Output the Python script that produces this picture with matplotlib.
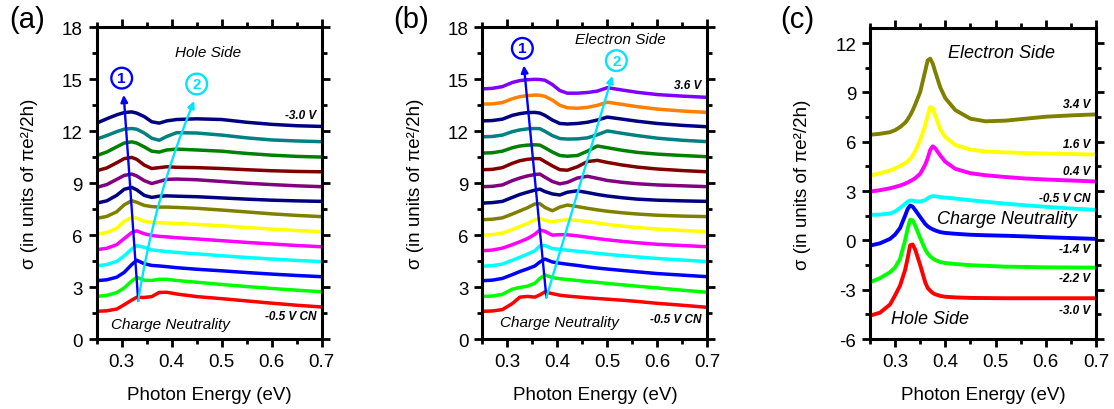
import numpy as np
import matplotlib.pyplot as plt
from matplotlib.ticker import MultipleLocator

plt.rcParams['font.family'] = ['Liberation Sans', 'DejaVu Sans']
plt.rcParams['axes.unicode_minus'] = False

# ---------------- data ----------------
# panel (a): hole side, bottom (CN) to top (-3.0 V)
x_a = [0.25, 0.27, 0.29, 0.305, 0.32, 0.33, 0.345, 0.36, 0.375, 0.39, 0.41, 0.45, 0.50, 0.55, 0.60, 0.65, 0.70]
colors_a = ['#FF0000', '#00FF00', '#0000FF', '#00FFFF', '#FF00FF', '#FFFF00', '#808000',
            '#000080', '#800080', '#800000', '#008000', '#008080', '#000080']
curves_a = [
    [1.60, 1.63, 1.73, 1.98, 2.25, 2.41, 2.40, 2.45, 2.69, 2.70, 2.60, 2.45, 2.33, 2.20, 2.07, 1.95, 1.85],
    [2.46, 2.52, 2.68, 2.95, 3.35, 3.56, 3.40, 3.38, 3.45, 3.45, 3.38, 3.28, 3.15, 3.03, 2.92, 2.82, 2.73],
    [3.37, 3.42, 3.57, 3.85, 4.30, 4.55, 4.35, 4.25, 4.22, 4.18, 4.12, 4.03, 3.94, 3.84, 3.75, 3.67, 3.60],
    [4.23, 4.30, 4.48, 4.80, 5.20, 5.39, 5.30, 5.15, 5.10, 5.05, 5.00, 4.92, 4.81, 4.71, 4.62, 4.54, 4.47],
    [5.16, 5.24, 5.45, 5.80, 6.15, 6.25, 6.08, 5.98, 5.93, 5.90, 5.85, 5.78, 5.68, 5.58, 5.49, 5.40, 5.33],
    [6.06, 6.15, 6.40, 6.80, 7.03, 6.98, 6.80, 6.74, 6.72, 6.70, 6.68, 6.62, 6.54, 6.44, 6.35, 6.27, 6.20],
    [6.97, 7.08, 7.35, 7.75, 7.99, 7.90, 7.72, 7.65, 7.62, 7.62, 7.60, 7.55, 7.45, 7.34, 7.23, 7.14, 7.07],
    [7.85, 7.98, 8.30, 8.65, 8.76, 8.62, 8.30, 8.18, 8.25, 8.27, 8.25, 8.22, 8.15, 8.08, 8.02, 7.98, 7.95],
    [8.76, 8.92, 9.22, 9.45, 9.53, 9.42, 9.15, 8.98, 9.10, 9.22, 9.24, 9.20, 9.10, 9.00, 8.92, 8.85, 8.80],
    [9.72, 9.88, 10.18, 10.42, 10.49, 10.38, 10.05, 9.85, 9.90, 9.95, 9.92, 9.90, 9.85, 9.78, 9.72, 9.68, 9.66],
    [10.60, 10.80, 11.10, 11.32, 11.39, 11.32, 11.10, 10.85, 10.80, 10.92, 10.97, 10.92, 10.85, 10.72, 10.62, 10.55, 10.51],
    [11.55, 11.75, 11.98, 12.12, 12.16, 12.12, 11.90, 11.60, 11.48, 11.70, 11.92, 11.90, 11.78, 11.62, 11.50, 11.44, 11.40],
    [12.47, 12.72, 12.95, 13.08, 13.12, 13.05, 12.85, 12.55, 12.47, 12.60, 12.68, 12.72, 12.68, 12.52, 12.40, 12.32, 12.28],
]

# panel (b): electron side, bottom (CN) to top (3.6 V)
x_b = [0.25, 0.27, 0.29, 0.31, 0.325, 0.34, 0.355, 0.365, 0.375, 0.39, 0.405, 0.42, 0.44, 0.46, 0.48, 0.50, 0.53, 0.56, 0.60, 0.65, 0.70]
colors_b = colors_a + ['#FF8000', '#8000FF']
curves_b = [
    [1.60, 1.62, 1.70, 2.05, 2.42, 2.46, 2.42, 2.55, 2.72, 2.62, 2.53, 2.48, 2.43, 2.38, 2.34, 2.30, 2.24, 2.17, 2.06, 1.95, 1.83],
    [2.46, 2.48, 2.58, 2.88, 2.98, 3.05, 3.22, 3.50, 3.70, 3.55, 3.48, 3.44, 3.38, 3.32, 3.27, 3.21, 3.13, 3.05, 2.95, 2.82, 2.70],
    [3.37, 3.40, 3.50, 3.72, 3.90, 4.05, 4.22, 4.45, 4.62, 4.45, 4.38, 4.32, 4.25, 4.17, 4.10, 4.04, 3.96, 3.88, 3.78, 3.69, 3.60],
    [4.20, 4.24, 4.33, 4.55, 4.72, 4.90, 5.10, 5.38, 5.40, 5.22, 5.18, 5.13, 5.07, 5.01, 4.95, 4.89, 4.81, 4.74, 4.65, 4.56, 4.47],
    [5.10, 5.14, 5.25, 5.45, 5.62, 5.80, 6.05, 6.30, 6.22, 6.00, 6.03, 6.02, 5.96, 5.88, 5.80, 5.73, 5.64, 5.56, 5.47, 5.40, 5.33],
    [6.00, 6.03, 6.12, 6.32, 6.50, 6.68, 6.88, 6.98, 6.85, 6.77, 6.85, 6.89, 6.85, 6.78, 6.70, 6.62, 6.52, 6.44, 6.35, 6.27, 6.20],
    [6.89, 6.92, 7.00, 7.22, 7.40, 7.58, 7.80, 7.82, 7.60, 7.41, 7.62, 7.74, 7.65, 7.55, 7.46, 7.38, 7.29, 7.22, 7.15, 7.10, 7.07],
    [7.85, 7.88, 7.95, 8.18, 8.35, 8.48, 8.60, 8.66, 8.52, 8.38, 8.32, 8.48, 8.56, 8.46, 8.35, 8.26, 8.16, 8.08, 8.02, 7.98, 7.95],
    [8.80, 8.82, 8.90, 9.15, 9.30, 9.42, 9.50, 9.53, 9.35, 9.10, 8.96, 9.05, 9.30, 9.40, 9.28, 9.16, 9.05, 8.97, 8.90, 8.85, 8.80],
    [9.78, 9.80, 9.90, 10.15, 10.30, 10.38, 10.42, 10.42, 10.25, 10.00, 9.78, 9.75, 9.95, 10.25, 10.32, 10.20, 10.05, 9.93, 9.82, 9.73, 9.66],
    [10.74, 10.76, 10.85, 11.05, 11.15, 11.20, 11.22, 11.20, 11.05, 10.80, 10.60, 10.56, 10.60, 10.85, 11.15, 11.05, 10.90, 10.78, 10.68, 10.60, 10.53],
    [11.68, 11.70, 11.78, 11.98, 12.08, 12.14, 12.16, 12.15, 12.00, 11.75, 11.58, 11.55, 11.56, 11.62, 11.80, 12.02, 11.88, 11.75, 11.60, 11.48, 11.40],
    [12.60, 12.62, 12.70, 12.92, 13.02, 13.08, 13.09, 13.05, 12.92, 12.65, 12.45, 12.42, 12.45, 12.52, 12.65, 12.82, 12.70, 12.58, 12.45, 12.34, 12.26],
    [13.57, 13.58, 13.66, 13.88, 14.00, 14.06, 14.09, 14.08, 14.02, 13.80, 13.50, 13.36, 13.33, 13.38, 13.50, 13.68, 13.55, 13.42, 13.28, 13.17, 13.09],
    [14.45, 14.48, 14.58, 14.82, 14.93, 14.98, 15.00, 14.99, 14.95, 14.70, 14.35, 14.20, 14.20, 14.24, 14.32, 14.52, 14.38, 14.25, 14.12, 14.03, 13.96],
]

# panel (c): selected gate voltages, bottom (-3.0 V) to top (3.4 V)
x_c = [0.25, 0.27, 0.29, 0.30, 0.31, 0.32, 0.325, 0.33, 0.335, 0.34, 0.35, 0.36, 0.365,
       0.37, 0.375, 0.38, 0.39, 0.40, 0.42, 0.45, 0.48, 0.52, 0.56, 0.60, 0.65, 0.70]
colors_c = ['#FF0000', '#00FF00', '#0000FF', '#00FFFF', '#FF00FF', '#FFFF00', '#808000']
labels_c = ['-3.0 V', '-2.2 V', '-1.4 V', '-0.5 V CN', '0.4 V', '1.6 V', '3.4 V']
label_y_c = [-4.21, -2.3, -0.52, 2.58, 4.2, 5.83, 8.31]
curves_c = [
    [-4.58, -4.40, -3.90, -3.35, -2.75, -1.80, -1.10, -0.30, -0.25, -0.55, -1.50, -2.55, -2.90,
     -3.06, -3.20, -3.28, -3.38, -3.43, -3.47, -3.50, -3.51, -3.52, -3.52, -3.52, -3.52, -3.52],
    [-2.55, -2.30, -1.94, -1.65, -1.13, 0.00, 0.70, 1.25, 1.22, 0.90, 0.15, -0.55, -0.80,
     -0.98, -1.10, -1.20, -1.32, -1.38, -1.44, -1.51, -1.55, -1.60, -1.62, -1.64, -1.65, -1.66],
    [-0.32, -0.18, 0.09, 0.35, 0.75, 1.50, 1.90, 2.12, 2.05, 1.85, 1.42, 1.00, 0.85,
     0.75, 0.67, 0.60, 0.50, 0.45, 0.40, 0.34, 0.31, 0.28, 0.24, 0.19, 0.14, 0.09],
    [1.55, 1.57, 1.63, 1.75, 1.98, 2.22, 2.35, 2.42, 2.42, 2.38, 2.36, 2.45, 2.55,
     2.65, 2.69, 2.68, 2.63, 2.60, 2.54, 2.44, 2.35, 2.23, 2.13, 2.04, 1.94, 1.85],
    [2.97, 3.05, 3.17, 3.25, 3.33, 3.45, 3.52, 3.60, 3.68, 3.78, 4.05, 4.60, 5.00,
     5.50, 5.72, 5.60, 5.16, 4.78, 4.35, 4.08, 3.96, 3.85, 3.76, 3.70, 3.64, 3.58],
    [3.94, 4.08, 4.25, 4.38, 4.52, 4.70, 4.80, 4.95, 5.15, 5.42, 6.10, 6.99, 7.60,
     8.10, 8.05, 7.60, 6.75, 6.28, 5.80, 5.52, 5.40, 5.35, 5.31, 5.28, 5.25, 5.22],
    [6.42, 6.48, 6.58, 6.70, 6.89, 7.15, 7.35, 7.60, 7.90, 8.25, 9.02, 10.30, 10.95,
     11.05, 10.75, 10.25, 9.30, 8.65, 7.92, 7.40, 7.24, 7.28, 7.40, 7.52, 7.60, 7.66],
]


def style_axes(ax, ylim, ymajor):
    ax.set_xlim(0.25, 0.7)
    ax.set_ylim(*ylim)
    ax.xaxis.set_major_locator(MultipleLocator(0.1))
    ax.xaxis.set_minor_locator(MultipleLocator(0.05))
    ax.yaxis.set_major_locator(MultipleLocator(ymajor))
    ax.yaxis.set_minor_locator(MultipleLocator(ymajor / 2))
    for sp in ax.spines.values():
        sp.set_linewidth(2.2)
    ax.tick_params(which='both', direction='out', width=2, labelsize=13.5, pad=4)
    ax.tick_params(which='major', length=6)
    ax.tick_params(which='minor', length=3.5)
    ax.tick_params(which='both', top=True, right=True, labeltop=False, labelright=False)
    ax.set_xlabel('Photon Energy (eV)', fontsize=13.5, va='top')
    ax.set_ylabel('σ (in units of πe²/2h)', fontsize=13.5)
    ax.yaxis.set_label_coords(-0.26, 0.5)
    ax.xaxis.set_label_coords(0.5, -0.15)


def circled(ax, x, y, txt, color):
    ax.text(x, y, txt, color=color, ha='center', va='center', fontsize=11, fontweight='bold',
            bbox=dict(boxstyle='circle,pad=0.22', fc='none', ec=color, lw=1.7))


def arrow(ax, start, end, color, rad=0.0):
    ax.annotate('', xy=end, xytext=start,
                arrowprops=dict(arrowstyle='-|>', color=color, lw=1.7, mutation_scale=10,
                                shrinkA=0, shrinkB=0, connectionstyle='arc3,rad=%.2f' % rad))


fig = plt.figure(figsize=(11.14, 4.10), dpi=100)
ax_a = fig.add_axes([0.0868, 0.1707, 0.202, 0.760])
ax_b = fig.add_axes([0.4330, 0.1707, 0.202, 0.760])
ax_c = fig.add_axes([0.7809, 0.1707, 0.203, 0.758])

# panel (a)
for ys, c in zip(curves_a, colors_a):
    ax_a.plot(x_a, ys, color=c, lw=2.5, solid_joinstyle='round', solid_capstyle='round')
style_axes(ax_a, (0, 18), 3)
arrow(ax_a, (0.333, 2.2), (0.304, 14.1), 'blue')
arrow(ax_a, (0.333, 2.2), (0.445, 13.75), '#00E5FF', rad=-0.06)
circled(ax_a, 0.300, 15.07, '1', 'blue')
circled(ax_a, 0.450, 14.73, '2', '#00E5FF')
ax_a.text(0.473, 16.56, 'Hole Side', fontsize=11, style='italic', ha='center', va='center')
ax_a.text(0.397, 0.87, 'Charge Neutrality', fontsize=11, style='italic', ha='center', va='center')
ax_a.text(0.69, 12.96, '-3.0 V', fontsize=8.5, style='italic', fontweight='bold', ha='right', va='center')
ax_a.text(0.69, 1.31, '-0.5 V CN', fontsize=8.5, style='italic', fontweight='bold', ha='right', va='center')
fig.text(0.024, 0.951, '(a)', fontsize=21, ha='center', va='center')

# panel (b)
for ys, c in zip(curves_b, colors_b):
    ax_b.plot(x_b, ys, color=c, lw=2.5, solid_joinstyle='round', solid_capstyle='round')
style_axes(ax_b, (0, 18), 3)
arrow(ax_b, (0.378, 2.4), (0.333, 15.8), 'blue')
arrow(ax_b, (0.378, 2.4), (0.51, 15.2), '#00E5FF')
circled(ax_b, 0.330, 16.79, '1', 'blue')
circled(ax_b, 0.518, 16.08, '2', '#00E5FF')
ax_b.text(0.525, 17.33, 'Electron Side', fontsize=11, style='italic', ha='center', va='center')
ax_b.text(0.405, 0.96, 'Charge Neutrality', fontsize=11, style='italic', ha='center', va='center')
ax_b.text(0.688, 14.67, '3.6 V', fontsize=8.5, style='italic', fontweight='bold', ha='right', va='center')
ax_b.text(0.688, 1.16, '-0.5 V CN', fontsize=8.5, style='italic', fontweight='bold', ha='right', va='center')
fig.text(0.3695, 0.951, '(b)', fontsize=21, ha='center', va='center')

# panel (c)
for ys, c in zip(curves_c, colors_c):
    ax_c.plot(x_c, ys, color=c, lw=2.8, solid_joinstyle='round', solid_capstyle='round')
style_axes(ax_c, (-6, 12.9), 3)
for lab, ly in zip(labels_c, label_y_c):
    ax_c.text(0.688, ly, lab, fontsize=8.5, style='italic', fontweight='bold', ha='right', va='center')
ax_c.text(0.512, 11.45, 'Electron Side', fontsize=13, style='italic', ha='center', va='center')
ax_c.text(0.522, 1.31, 'Charge Neutrality', fontsize=13, style='italic', ha='center', va='center')
ax_c.text(0.370, -4.78, 'Hole Side', fontsize=13, style='italic', ha='center', va='center')
fig.text(0.716, 0.951, '(c)', fontsize=21, ha='center', va='center')

fig.savefig('out.png', dpi=100)
